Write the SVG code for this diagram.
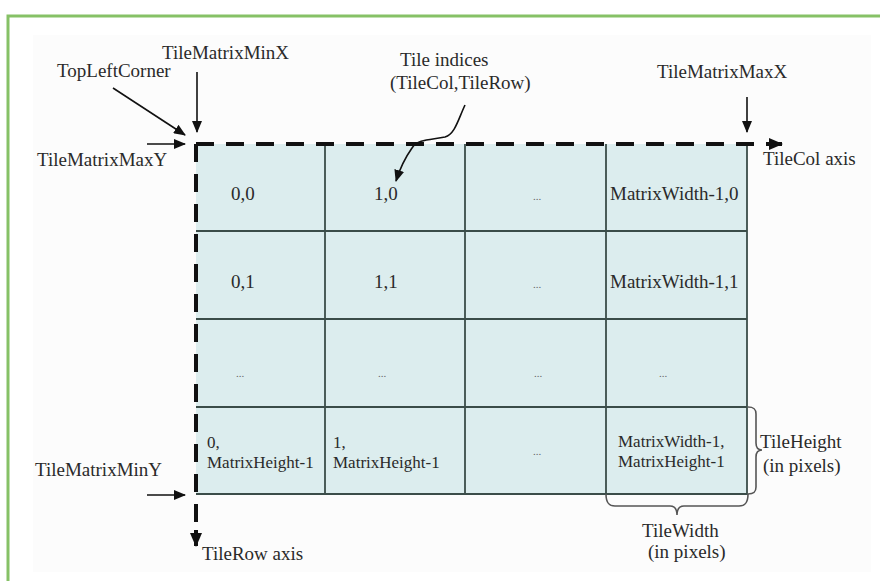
<svg xmlns="http://www.w3.org/2000/svg" width="880" height="581" viewBox="0 0 880 581">
<style>
text{font-family:"Liberation Serif","Times New Roman",serif;font-size:19px;fill:#2a2a2a}
.sm{font-size:17px}
.dots{font-size:11px;fill:#666;text-anchor:middle}
.grid{stroke:#3b4d49;stroke-width:1.8;fill:none}
.axis{stroke:#111;stroke-width:4;stroke-dasharray:18 12;fill:none}
.arr{stroke:#111;stroke-width:1.6;fill:none}
.brace{stroke:#555;stroke-width:1.6;fill:none}
</style>
<defs>
<marker id="ah" markerUnits="userSpaceOnUse" markerWidth="12" markerHeight="10" refX="11" refY="5" orient="auto">
<path d="M0,0 L12,5 L0,10 z" fill="#111"/>
</marker>
<marker id="ahb" markerUnits="userSpaceOnUse" markerWidth="14" markerHeight="12" refX="13" refY="6" orient="auto">
<path d="M0,0 L14,6 L0,12 z" fill="#111"/>
</marker>
</defs>
<rect width="880" height="581" fill="#ffffff"/>
<rect x="33" y="35" width="838" height="537" fill="#fcfcfc"/>
<g id="frame">
<path d="M8,581 L8,16 L880,16" stroke="#86c166" stroke-width="3" fill="none"/>
</g>
<g id="grid">
<rect x="196" y="144" width="551" height="350" fill="#dcedee"/>
<path class="grid" d="M747,144 V494 H196 M325,144 V494 M465,144 V494 M606,144 V494 M196,231 H747 M196,319 H747 M196,407 H747"/>
</g>
<g id="cell-0-0"><text x="231" y="200">0,0</text></g>
<g id="cell-1-0"><text x="374" y="200">1,0</text></g>
<g id="cell-2-0"><text class="dots" x="537" y="200">...</text></g>
<g id="cell-3-0"><text x="610" y="200">MatrixWidth-1,0</text></g>
<g id="cell-0-1"><text x="231" y="288">0,1</text></g>
<g id="cell-1-1"><text x="374" y="288">1,1</text></g>
<g id="cell-2-1"><text class="dots" x="537" y="288">...</text></g>
<g id="cell-3-1"><text x="610" y="288">MatrixWidth-1,1</text></g>
<g id="cell-0-2"><text class="dots" x="240" y="377">...</text></g>
<g id="cell-1-2"><text class="dots" x="382" y="377">...</text></g>
<g id="cell-2-2"><text class="dots" x="538" y="377">...</text></g>
<g id="cell-3-2"><text class="dots" x="663" y="377">...</text></g>
<g id="cell-0-3"><text class="sm" x="207" y="448">0,</text><text class="sm" x="207" y="468">MatrixHeight-1</text></g>
<g id="cell-1-3"><text class="sm" x="333" y="448">1,</text><text class="sm" x="333" y="468">MatrixHeight-1</text></g>
<g id="cell-2-3"><text class="dots" x="537" y="455">...</text></g>
<g id="cell-3-3"><text class="sm" x="618" y="447">MatrixWidth-1,</text><text class="sm" x="618" y="467">MatrixHeight-1</text></g>
<g id="label-minx"><text x="162" y="59">TileMatrixMinX</text></g>
<g id="label-topleft"><text x="57" y="77">TopLeftCorner</text></g>
<g id="label-maxy"><text x="37" y="166">TileMatrixMaxY</text></g>
<g id="label-indices"><text x="400" y="66">Tile indices</text><text x="390" y="89">(TileCol,TileRow)</text></g>
<g id="label-maxx"><text x="657" y="78">TileMatrixMaxX</text></g>
<g id="label-colaxis"><text x="763" y="165">TileCol axis</text></g>
<g id="label-miny"><text x="35" y="476">TileMatrixMinY</text></g>
<g id="label-rowaxis"><text x="202" y="560">TileRow axis</text></g>
<g id="label-tileheight"><text x="760" y="448">TileHeight</text><text x="763" y="472">(in pixels)</text></g>
<g id="label-tilewidth"><text x="642" y="537">TileWidth</text><text x="648" y="558">(in pixels)</text></g>
<g id="connectors">
<path class="axis" d="M196,144 H770"/>
<path d="M766,144 H782" stroke="#111" stroke-width="4" marker-end="url(#ahb)"/>
<path class="axis" d="M196,144 V535"/>
<path d="M196,530 V546" stroke="#111" stroke-width="4" marker-end="url(#ahb)"/>
<path class="arr" d="M197,72 V132" marker-end="url(#ah)"/>
<path class="arr" d="M113,88 L185,135" marker-end="url(#ah)"/>
<path class="arr" d="M147,144 H185" marker-end="url(#ah)"/>
<path class="arr" d="M747,97 V132" marker-end="url(#ah)"/>
<path class="arr" d="M147,495 H185" marker-end="url(#ah)"/>
<path class="arr" d="M465,105 C458,120 455,134 445,137 C430,140 418,139 412,148 C405,158 400,168 396,181" marker-end="url(#ah)"/>
<path class="brace" d="M748,407 C754,407 756,409 756,414 V443 C756,448 758,450 762,450 C758,450 756,452 756,457 V487 C756,492 754,494 748,494"/>
<path class="brace" d="M606,494 C606,503 609,506 615,506 H670 C675,506 677,509 677,515 C677,509 679,506 684,506 H739 C745,506 748,503 748,494"/>
</g>
</svg>
